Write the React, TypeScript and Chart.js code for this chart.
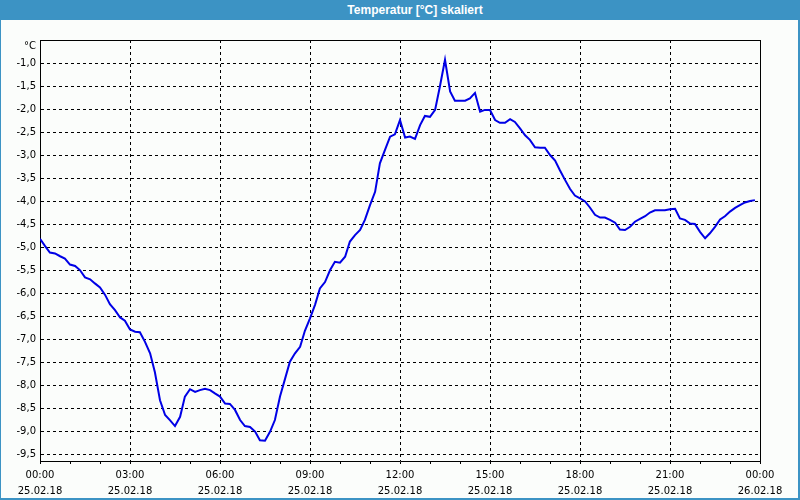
import React, { useEffect, useRef } from "react";
import { Chart, registerables } from "chart.js";

Chart.register(...registerables);

const chartTitle = "Temperatur [°C] skaliert";

const hours = [
  0, 0.17, 0.33, 0.5, 0.67, 0.83, 1, 1.17, 1.33, 1.5, 1.67, 1.83,
  2, 2.17, 2.33, 2.5, 2.67, 2.83, 3, 3.17, 3.33, 3.5, 3.67, 3.83,
  4, 4.17, 4.33, 4.5, 4.67, 4.83, 5, 5.17, 5.33, 5.5, 5.67, 5.83,
  6, 6.17, 6.33, 6.5, 6.67, 6.83, 7, 7.17, 7.33, 7.5, 7.67, 7.83,
  8, 8.17, 8.33, 8.5, 8.67, 8.83, 9, 9.17, 9.33, 9.5, 9.67, 9.83,
  10, 10.17, 10.33, 10.5, 10.67, 10.83, 11, 11.17, 11.33, 11.5, 11.67, 11.83,
  12, 12.17, 12.33, 12.5, 12.67, 12.83, 13, 13.17, 13.33, 13.5, 13.67, 13.83,
  14, 14.17, 14.33, 14.5, 14.67, 14.83, 15, 15.17, 15.33, 15.5, 15.67, 15.83,
  16, 16.17, 16.33, 16.5, 16.67, 16.83, 17, 17.17, 17.33, 17.5, 17.67, 17.83,
  18, 18.17, 18.33, 18.5, 18.67, 18.83, 19, 19.17, 19.33, 19.5, 19.67, 19.83,
  20, 20.17, 20.33, 20.5, 20.67, 20.83, 21, 21.17, 21.33, 21.5, 21.67, 21.83,
  22, 22.17, 22.33, 22.5, 22.67, 22.83, 23, 23.17, 23.33, 23.5, 23.67, 23.83,
];

const temps = [
  -4.82, -4.98, -5.12, -5.14, -5.2, -5.25, -5.38, -5.41, -5.5, -5.66, -5.7, -5.79,
  -5.88, -6.04, -6.24, -6.37, -6.53, -6.6, -6.79, -6.84, -6.85, -7.06, -7.31, -7.72,
  -8.33, -8.65, -8.76, -8.89, -8.69, -8.25, -8.09, -8.15, -8.11, -8.08, -8.11, -8.18,
  -8.25, -8.4, -8.41, -8.54, -8.76, -8.89, -8.91, -9.01, -9.2, -9.21, -9.01, -8.76,
  -8.25, -7.86, -7.49, -7.31, -7.17, -6.82, -6.55, -6.25, -5.9, -5.76, -5.5, -5.32,
  -5.34, -5.21, -4.88, -4.74, -4.63, -4.41, -4.09, -3.8, -3.18, -2.89, -2.6, -2.55,
  -2.24, -2.62, -2.6, -2.65, -2.35, -2.15, -2.17, -2.02, -1.51, -0.93, -1.62, -1.82,
  -1.82, -1.82, -1.77, -1.65, -2.06, -2.02, -2.02, -2.24, -2.3, -2.3, -2.22, -2.28,
  -2.42, -2.57, -2.67, -2.83, -2.84, -2.84, -3.0, -3.12, -3.33, -3.54, -3.74, -3.88,
  -3.94, -4.01, -4.14, -4.3, -4.36, -4.36, -4.41, -4.47, -4.62, -4.63, -4.56, -4.45,
  -4.39, -4.33, -4.25, -4.2, -4.2, -4.2, -4.18, -4.17, -4.38, -4.41, -4.49, -4.5,
  -4.67, -4.81, -4.7, -4.56, -4.4, -4.33, -4.23, -4.15, -4.09, -4.03, -4.0, -3.98,
];

const xHourTicks = [0, 1, 2, 3, 4, 5, 6, 7, 8, 9, 10, 11, 12, 13, 14, 15, 16, 17, 18, 19, 20, 21, 22, 23, 24];
const xLabelHours = [0, 3, 6, 9, 12, 15, 18, 21, 24];
const xTimeLabels = ["00:00", "03:00", "06:00", "09:00", "12:00", "15:00", "18:00", "21:00", "00:00"];
const xDateLabels = ["25.02.18", "25.02.18", "25.02.18", "25.02.18", "25.02.18", "25.02.18", "25.02.18", "25.02.18", "26.02.18"];

const yTickValues = [-9.5, -9.0, -8.5, -8.0, -7.5, -7.0, -6.5, -6.0, -5.5, -5.0, -4.5, -4.0, -3.5, -3.0, -2.5, -2.0, -1.5, -1.0];
const yUnitLabel = "°C";
const yUnitPos = -0.63;
const yMin = -9.65;
const yMax = -0.5;

export default function App() {
  const canvasRef = useRef<HTMLCanvasElement>(null);

  useEffect(() => {
    document.body.style.margin = "0";
    const canvas = canvasRef.current;
    if (!canvas) return;

    const framePlugin = {
      id: "frameBox",
      afterDraw(chart: any) {
        const { ctx, chartArea } = chart;
        const { left, top, right, bottom } = chartArea;
        ctx.save();
        ctx.strokeStyle = "#000";
        ctx.lineWidth = 1;
        ctx.setLineDash([]);
        ctx.beginPath();
        ctx.moveTo(left, Math.round(top) + 0.5);
        ctx.lineTo(Math.round(right) + 0.5, Math.round(top) + 0.5);
        ctx.lineTo(Math.round(right) + 0.5, bottom);
        ctx.stroke();
        ctx.restore();
      },
    };

    const font = { family: "'DejaVu Sans', Verdana, sans-serif", size: 10 };

    const chart = new Chart(canvas, {
      type: "line",
      data: {
        datasets: [
          {
            data: hours.map((h, i) => ({ x: h, y: temps[i] })),
            borderColor: "rgb(0,0,230)",
            borderWidth: 2,
            pointRadius: 0,
            tension: 0,
            fill: false,
          },
        ],
      },
      options: {
        animation: false,
        responsive: false,
        maintainAspectRatio: false,
        layout: { padding: { top: 40, right: 40, left: 0, bottom: 0 } },
        plugins: {
          legend: { display: false },
          title: { display: false },
          tooltip: { enabled: false },
        },
        scales: {
          x: {
            type: "linear",
            min: 0,
            max: 24,
            afterBuildTicks: (s: any) => {
              s.ticks = xHourTicks.map((v) => ({ value: v }));
            },
            afterFit: (s: any) => {
              s.height = 39;
            },
            ticks: {
              autoSkip: false,
              maxRotation: 0,
              minRotation: 0,
              color: "#000",
              padding: 3,
              font: { ...font, lineHeight: 1.6 },
              callback: (value: any) => {
                const i = xLabelHours.indexOf(Number(value));
                return i >= 0 ? [xTimeLabels[i], xDateLabels[i]] : "";
              },
            },
            grid: {
              color: (c: any) =>
                c.tick && xLabelHours.includes(c.tick.value) ? "#000" : "rgba(0,0,0,0)",
              tickColor: "#000",
              tickLength: 3,
              lineWidth: 1,
            },
            border: { display: true, color: "#000", width: 1, dash: [3, 3] },
          },
          y: {
            type: "linear",
            min: yMin,
            max: yMax,
            afterBuildTicks: (s: any) => {
              s.ticks = [...yTickValues.map((v) => ({ value: v })), { value: yUnitPos }];
            },
            afterFit: (s: any) => {
              s.width = 40;
            },
            ticks: {
              color: "#000",
              padding: 4,
              font,
              callback: (value: any) =>
                Number(value) === yUnitPos ? yUnitLabel : Number(value).toFixed(1).replace(".", ","),
            },
            grid: {
              drawTicks: false,
              color: (c: any) => (c.tick && c.tick.value === yUnitPos ? "rgba(0,0,0,0)" : "#000"),
              lineWidth: 1,
            },
            border: { display: true, color: "#000", width: 1, dash: [3, 3] },
          },
        },
      },
      plugins: [framePlugin],
    } as any);

    return () => chart.destroy();
  }, []);

  return (
    <div
      style={{
        position: "fixed",
        left: 0,
        top: 0,
        width: 800,
        height: 500,
        background: "#fbfdfb",
        overflow: "hidden",
      }}
    >
      <canvas
        ref={canvasRef}
        width={800}
        height={500}
        style={{ position: "absolute", left: 0, top: 0, width: 800, height: 500, display: "block" }}
      />
      <div
        style={{
          position: "absolute",
          left: 0,
          top: 0,
          width: 800,
          height: 20,
          boxSizing: "border-box",
          paddingLeft: 30,
          background: "#3c93c4",
          color: "#fff",
          fontFamily: "'Liberation Sans', Arial, sans-serif",
          fontWeight: "bold",
          fontSize: 12,
          lineHeight: "20px",
          textAlign: "center",
        }}
      >
        {chartTitle}
      </div>
      <div
        style={{
          position: "absolute",
          left: 0,
          top: 0,
          width: 800,
          height: 500,
          boxSizing: "border-box",
          borderLeft: "1px solid #3c93c4",
          borderRight: "2px solid #3c93c4",
          borderBottom: "2px solid #3c93c4",
          pointerEvents: "none",
        }}
      />
    </div>
  );
}
